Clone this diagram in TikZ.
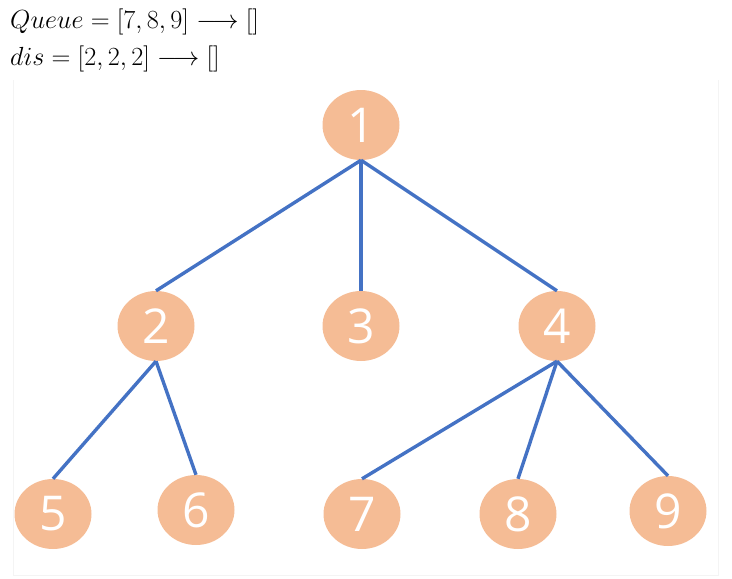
\RequirePackage{fix-cm}
\documentclass[tikz,border=0pt]{standalone}
\usepackage{fontspec}
\usetikzlibrary{shapes.geometric}
\newfontfamily\numfont{Open Sans}
\definecolor{nodefill}{HTML}{F5BC95}
\definecolor{edgeblue}{HTML}{4472C4}
\definecolor{framegray}{HTML}{F4F4F4}
\tikzset{
  treenode/.style={ellipse, fill=nodefill, minimum width=77pt, minimum height=70pt, inner sep=0pt,
    text=white, font=\numfont\fontsize{48}{48}\selectfont},
  treeedge/.style={draw=edgeblue, line width=3.4pt},
  mathlabel/.style={anchor=base west, inner sep=0pt, font=\fontsize{26.2}{26.2}\selectfont}
}
\begin{document}
\begin{tikzpicture}[x=1pt, y=-1pt]
\useasboundingbox (0,0) rectangle (732,579);
\draw[framegray, line width=1pt] (13,80) -- (13,575) -- (718,575) -- (718,80);
\node[mathlabel] (q) at (10,28) {$Queue=[7,8,9]\longrightarrow[]$};
\node[mathlabel] (d) at (10,65) {$dis=[2,2,2]\longrightarrow[]$};
\node[treenode] (n1) at (361,125) {1};
\node[treenode] (n2) at (156,326) {2};
\node[treenode] (n3) at (361,326) {3};
\node[treenode] (n4) at (557,326) {4};
\node[treenode] (n5) at (53,514) {5};
\node[treenode] (n6) at (196,510) {6};
\node[treenode] (n7) at (362,514) {7};
\node[treenode] (n8) at (518,514) {8};
\node[treenode] (n9) at (668,511) {9};
\draw[treeedge] (n1.south) -- (n2.north);
\draw[treeedge] (n1.south) -- (n3.north);
\draw[treeedge] (n1.south) -- (n4.north);
\draw[treeedge] (n2.south) -- (n5.north);
\draw[treeedge] (n2.south) -- (n6.north);
\draw[treeedge] (n4.south) -- (n7.north);
\draw[treeedge] (n4.south) -- (n8.north);
\draw[treeedge] (n4.south) -- (n9.north);
\end{tikzpicture}
\end{document}
